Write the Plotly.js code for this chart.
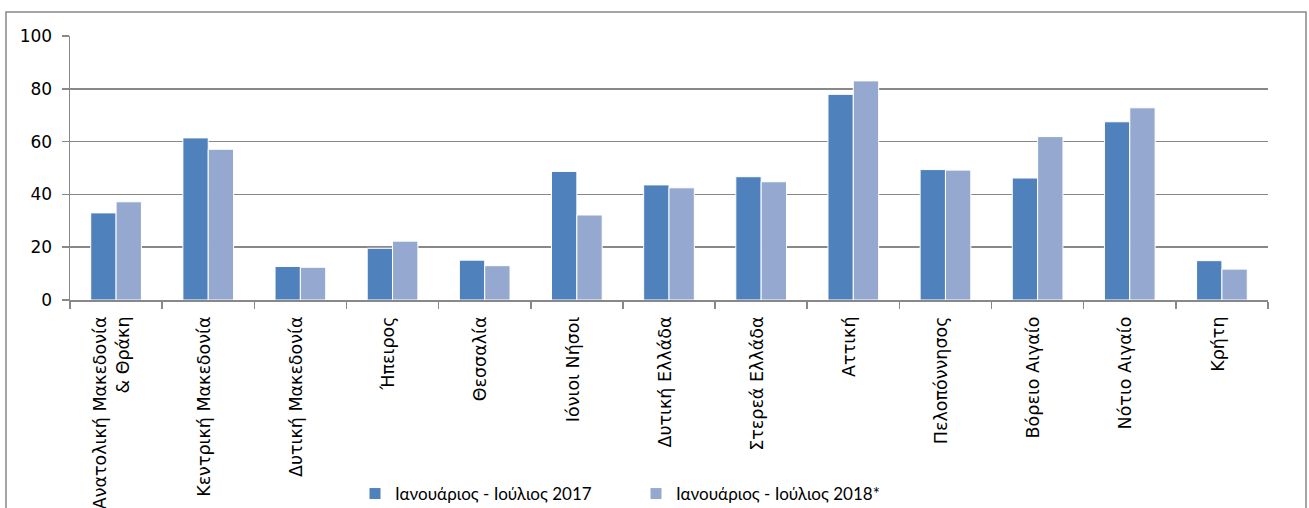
<!DOCTYPE html>
<html>
<head>
<meta charset="utf-8">
<script src="https://cdn.plot.ly/plotly-3.0.1.min.js"></script>
<style>
html,body{margin:0;padding:0;background:#fff;}
#chart{width:1309px;height:508px;}
</style>
</head>
<body>
<div id="chart"></div>
<script>
var categories = [
  "Ανατολική Μακεδονία<br>& Θράκη",
  "Κεντρική Μακεδονία",
  "Δυτική Μακεδονία",
  "Ήπειρος",
  "Θεσσαλία",
  "Ιόνιοι Νήσοι",
  "Δυτική Ελλάδα",
  "Στερεά Ελλάδα",
  "Αττική",
  "Πελοπόννησος",
  "Βόρειο Αιγαίο",
  "Νότιο Αιγαίο",
  "Κρήτη"
];
var values2017 = [33.0, 61.4, 12.7, 19.6, 15.1, 48.7, 43.6, 46.7, 77.9, 49.4, 46.2, 67.5, 14.9];
var values2018 = [37.2, 57.1, 12.4, 22.3, 13.0, 32.2, 42.5, 44.8, 83.0, 49.2, 61.9, 72.8, 11.7];
var seriesNames = ["Ιανουάριος - Ιούλιος 2017", "Ιανουάριος - Ιούλιος 2018*"];
var yTicks = [0, 20, 40, 60, 80, 100];

var traces = [
  {type: "bar", x: categories, y: values2017, name: seriesNames[0], legend: "legend",
   marker: {color: "#4F81BD", line: {color: "#ffffff", width: 1}}, hoverinfo: "y"},
  {type: "bar", x: categories, y: values2018, name: seriesNames[1], legend: "legend2",
   marker: {color: "#95A9D0", line: {color: "#ffffff", width: 1}}, hoverinfo: "y"}
];

var legendFont = {family: "Lato, 'Liberation Sans', sans-serif", size: 17, color: "#000"};
function px2x(p) { return (p - 70) / 1198; }
function px2y(p) { return (300 - p) / 264; }

var layout = {
  width: 1309, height: 508,
  margin: {l: 70, r: 41, t: 36, b: 208, autoexpand: false},
  paper_bgcolor: "#ffffff", plot_bgcolor: "#ffffff",
  barmode: "group", bargap: 0.45, bargroupgap: 0,
  showlegend: true,
  legend: {orientation: "h", x: px2x(355), xanchor: "left", y: px2y(494), yanchor: "middle",
           font: legendFont, itemwidth: 30},
  legend2: {orientation: "h", x: px2x(636), xanchor: "left", y: px2y(494), yanchor: "middle",
           font: legendFont, itemwidth: 30},
  font: {family: "DejaVu Sans, sans-serif", color: "#000"},
  xaxis: {
    type: "category", tickangle: -90, tickson: "boundaries",
    ticks: "outside", ticklen: 7, tickcolor: "#888", tickwidth: 1.5,
    showline: true, linecolor: "#888", linewidth: 1.5,
    showgrid: false, zeroline: false, ticklabelstandoff: 8, ticklabelshift: -4,
    tickfont: {family: "DejaVu Sans, sans-serif", size: 17.5, color: "#000"},
    automargin: false
  },
  yaxis: {
    range: [0, 100], tickvals: yTicks, ticktext: yTicks.map(String),
    ticks: "outside", ticklen: 7, tickcolor: "#888", tickwidth: 1.5,
    showline: true, linecolor: "#888", linewidth: 1.5,
    showgrid: true, gridcolor: "#888", gridwidth: 1.5,
    zeroline: false, ticklabelstandoff: 6,
    tickfont: {family: "DejaVu Sans, sans-serif", size: 17, color: "#000"},
    automargin: false
  },
  shapes: [{type: "rect", xref: "paper", yref: "paper",
            x0: px2x(6), x1: px2x(1306),
            y0: px2y(530), y1: px2y(12),
            line: {color: "#888", width: 1.5}, fillcolor: "rgba(0,0,0,0)", layer: "below"}]
};

Plotly.newPlot("chart", traces, layout, {displayModeBar: false, staticPlot: true});
</script>
</body>
</html>
